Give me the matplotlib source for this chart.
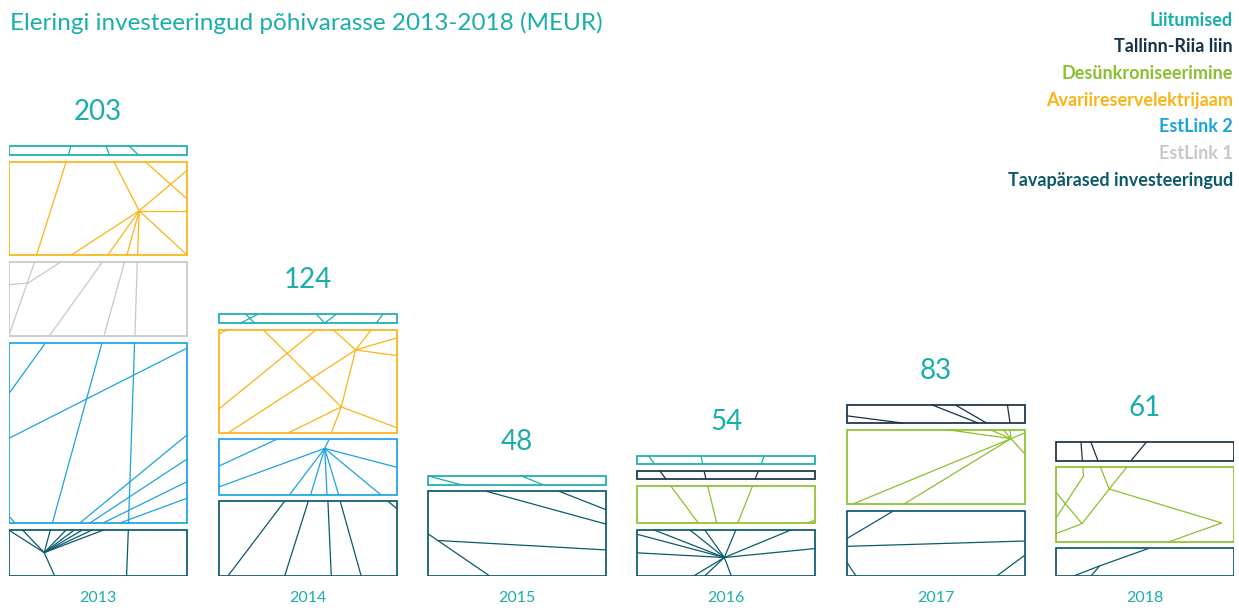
import matplotlib.pyplot as plt
from matplotlib.patches import Rectangle

# andmed (MEUR), loetud pildilt
aastad = ["2013", "2014", "2015", "2016", "2017", "2018"]
kokku = [203, 124, 48, 54, 83, 61]

tavaparased = [23.5, 38, 43, 23.5, 33, 14]
estlink2 = [91.5, 28, 0, 0, 0, 0]
estlink1 = [38, 0, 0, 0, 0, 0]
avarii = [47.5, 52.5, 0, 0, 0, 0]
desynk = [0, 0, 0, 19, 38, 38]
tallinn_riia = [0, 0, 0, 4.2, 9.3, 9.3]
liitumised = [4.5, 4.5, 4.5, 4.5, 0, 0]

# virnastamise järjekord alt üles
seeriad = [
    ("Tavapärased investeeringud", tavaparased, "#0b5a6b"),
    ("EstLink 2", estlink2, "#1ba3e0"),
    ("EstLink 1", estlink1, "#c8c8c8"),
    ("Avariireservelektrijaam", avarii, "#fbb316"),
    ("Desünkroniseerimine", desynk, "#8cbf2f"),
    ("Tallinn-Riia liin", tallinn_riia, "#173246"),
    ("Liitumised", liitumised, "#1aaeaa"),
]
legendi_jarjekord = ["Liitumised", "Tallinn-Riia liin", "Desünkroniseerimine",
                     "Avariireservelektrijaam", "EstLink 2", "EstLink 1",
                     "Tavapärased investeeringud"]

# dekoratiivsed jooned ristküliku sees (suhtelised koordinaadid 0..1)
muster = {
    (0, "Liitumised"): [[(0.345, 1), (0.333, 0)], [(0.544, 1), (0.562, 0)], [(0.674, 1), (0.726, 0)]],
    (0, "Avariireservelektrijaam"): [
        [(0.32, 1), (0.153, 0)], [(0.587, 1), (0.73, 0.473)], [(0.763, 1), (1, 0.598)],
        [(0.73, 0.473), (1, 0.907)], [(0.73, 0.473), (1, 0.473)], [(0.73, 0.473), (1, 0)],
        [(0.73, 0.473), (0.721, 0)], [(0.73, 0.473), (0.661, 0)], [(0.73, 0.473), (0.553, 0)],
        [(0.73, 0.473), (0.348, 0)]],
    (0, "EstLink 1"): [
        [(0.143, 1), (0, 0.03)], [(0.292, 1), (0.106, 0.714), (0, 0.692)],
        [(0.525, 1), (0.223, 0)], [(0.648, 1), (0.531, 0)], [(0.719, 1), (0.706, 0)]],
    (0, "EstLink 2"): [
        [(0.203, 1), (0, 0.722)], [(0.521, 1), (0.242, 0)], [(0.704, 1), (0.67, 0)],
        [(0, 0.472), (1, 0.972)], [(0.395, 0), (1, 0.491)], [(0.451, 0), (1, 0.357)],
        [(0.525, 0), (1, 0.231)], [(0.618, 0), (1, 0.139)], [(0, 0.037), (0.032, 0)]],
    (0, "Tavapärased investeeringud"): [
        [(0, 0.986), (0.196, 0.504)], [(0.073, 1), (0.196, 0.504)], [(0.231, 1), (0.196, 0.504)],
        [(0.32, 1), (0.196, 0.504)], [(0.367, 1), (0.196, 0.504)], [(0.413, 1), (0.196, 0.504)],
        [(0.469, 1), (0.196, 0.504)], [(0.534, 1), (0.196, 0.504)], [(0.196, 0.504), (0.255, 0)],
        [(0.669, 1), (0.659, 0)]],
    (1, "Liitumised"): [
        [(0.124, 0), (0.221, 1)], [(0.152, 1), (0.202, 0)], [(0.549, 1), (0.596, 0), (0.661, 1)],
        [(0.886, 0), (0.923, 1)]],
    (1, "Avariireservelektrijaam"): [
        [(0, 0.958), (0.052, 1)], [(0, 0.23), (0.549, 1)], [(0.249, 1), (0.689, 0.252)],
        [(0.052, 0), (0.77, 0.803)], [(0.642, 1), (0.77, 0.803)], [(0.77, 0.803), (0.858, 1)],
        [(0.77, 0.803), (1, 0.919)], [(0.77, 0.803), (1, 0.748)], [(0.77, 0.803), (0.689, 0.252)],
        [(0.689, 0.252), (0.633, 0)], [(0.689, 0.252), (1, 0.052)], [(0.39, 0), (0.689, 0.252)]],
    (1, "EstLink 2"): [
        [(0, 0.515), (0.324, 1)], [(0, 0.138), (0.596, 0.838)], [(0.596, 0.838), (0.62, 1)],
        [(0.596, 0.838), (1, 0.497)], [(0.596, 0.838), (0.399, 0)], [(0.596, 0.838), (0.517, 0)],
        [(0.596, 0.838), (0.609, 0)], [(0.596, 0.838), (0.674, 0)], [(0.596, 0.838), (0.91, 0)]],
    (1, "Tavapärased investeeringud"): [
        [(0.371, 1), (0.052, 0)], [(0.504, 1), (0.371, 0)], [(0.614, 1), (0.633, 0)],
        [(0.683, 1), (0.801, 0)], [(0.951, 1), (1, 0.902)]],
    (2, "Liitumised"): [[(0, 1), (0.188, 0)], [(0.525, 1), (0.647, 0)]],
    (2, "Tavapärased investeeringud"): [
        [(0.328, 1), (1, 0.613)], [(0.737, 1), (1, 0.783)], [(0, 0.498), (0.347, 0)],
        [(0.056, 0.419), (1, 0.308)]],
    (3, "Liitumised"): [[(0.062, 1), (0.099, 0)], [(0.358, 1), (0.367, 0)], [(0.713, 1), (0.695, 0)]],
    (3, "Tallinn-Riia liin"): [[(0.127, 1), (0.161, 0)], [(0.375, 1), (0.386, 0)], [(0.68, 1), (0.661, 0)]],
    (3, "Desünkroniseerimine"): [
        [(0.187, 1), (0.343, 0)], [(0.395, 1), (0.446, 0)], [(0.648, 1), (0.564, 0)],
        [(0.951, 0), (1, 0.08)]],
    (3, "Tavapärased investeeringud"): [
        [(0, 0.9), (0.489, 0.4)], [(0.09, 1), (0.489, 0.4)], [(0, 0.5), (0.489, 0.4)],
        [(0.294, 1), (0.489, 0.4)], [(0.378, 1), (0.489, 0.4)], [(0.554, 1), (0.489, 0.4)],
        [(0.867, 1), (0.489, 0.4)], [(0.489, 0.4), (1, 0.593)], [(0.489, 0.4), (0.316, 0)],
        [(0.489, 0.4), (0.378, 0)], [(0.489, 0.4), (0.528, 0)]],
    (4, "Tallinn-Riia liin"): [
        [(0, 0.4), (0.318, 0)], [(0.478, 1), (0.74, 0)], [(0.609, 1), (0.787, 0)],
        [(0.903, 1), (0.918, 0)]],
    (4, "Desünkroniseerimine"): [
        [(0.028, 0), (0.923, 0.879)], [(0.318, 0), (0.923, 0.879)], [(0.923, 0.879), (1, 0.955)],
        [(0.923, 0.879), (1, 0.679)], [(0.923, 0.879), (0.562, 1)], [(0.923, 0.879), (0.805, 1)],
        [(0.923, 0.879), (0.88, 1)], [(0.923, 0.879), (0.918, 1)]],
    (4, "Tavapärased investeeringud"): [
        [(0, 0.574), (0.262, 1)], [(0, 0.456), (1, 0.538)], [(0, 0.215), (0.052, 0)],
        [(0.843, 0), (1, 0.318)]],
    (5, "Tallinn-Riia liin"): [
        [(0.14, 1), (0.148, 0)], [(0.196, 1), (0.235, 0)], [(0.507, 1), (0.422, 0)]],
    (5, "Desünkroniseerimine"): [
        [(0.15, 1), (0.155, 0.884), (0, 0.32)], [(0, 0.662), (0.146, 0.244), (0, 0.111)],
        [(0.146, 0.244), (0.299, 0.707), (0.398, 1)], [(0.249, 1), (0.299, 0.707)],
        [(0.299, 0.707), (0.931, 0.253), (0.632, 0)]],
    (5, "Tavapärased investeeringud"): [
        [(0.099, 0), (0.245, 0.366), (0.52, 1)], [(0.245, 0.366), (0.196, 0)]],
}

tiitli_varv = "#1aaeaa"
font = "Lato"
laius = 0.85
vahe = 3.3  # vahe segmentide vahel (andmeühikutes)
px_uhik = 1.97

fig = plt.figure(figsize=(12.39, 6.08), dpi=100)
ax = fig.add_axes([9.3 / 1239, 32 / 608, 1224.7 / 1239, 576 / 608])
ax.set_xlim(-laius / 2, len(aastad) - 1 + laius / 2)
ax.set_ylim(0, 576 / px_uhik)
ax.axis("off")

for i, aasta in enumerate(aastad):
    alus = 0
    x0 = i - laius / 2
    for nimi, vaartused, varv in seeriad:
        h = vaartused[i]
        if h <= 0:
            continue
        ax.add_patch(Rectangle((x0, alus), laius, h, fill=False, edgecolor=varv, linewidth=1.25))
        for joon in muster.get((i, nimi), []):
            xs = [x0 + u * laius for u, v in joon]
            ys = [alus + v * h for u, v in joon]
            ax.plot(xs, ys, color=varv, linewidth=0.9, solid_capstyle="butt")
        alus += h + vahe
    ylemine = alus - vahe
    ax.annotate(str(kokku[i]), (i, ylemine), xytext=(0, 21), textcoords="offset pixels",
                ha="center", va="bottom", fontsize=20, color=tiitli_varv, family=font)
    ax.annotate(aasta, (i, 0), xytext=(0, -22), textcoords="offset pixels",
                ha="center", va="center", fontsize=11.5, color=tiitli_varv, family=font)

fig.text(10 / 1239, 1 - 23 / 608, "Eleringi investeeringud põhivarasse 2013-2018 (MEUR)",
         ha="left", va="center", fontsize=17.5, color=tiitli_varv, family=font)

varvid = {nimi: varv for nimi, _, varv in seeriad}
for k, nimi in enumerate(legendi_jarjekord):
    fig.text(1233 / 1239, 1 - (20 + k * 26.7) / 608, nimi, ha="right", va="center",
             fontsize=13, fontweight="bold", color=varvid[nimi], family=font)

fig.savefig("out.png", dpi=100)
